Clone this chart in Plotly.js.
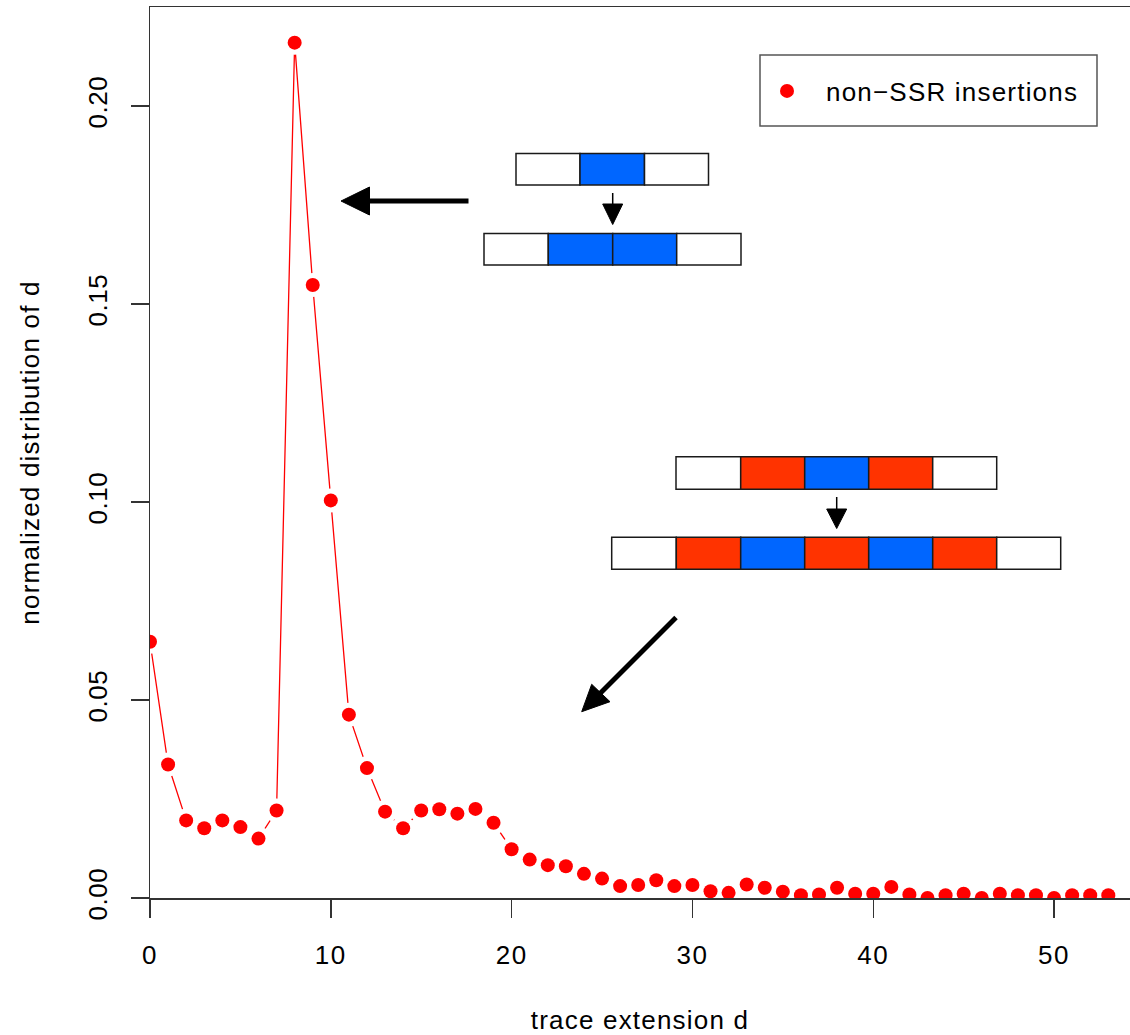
<!DOCTYPE html>
<html>
<head>
<meta charset="utf-8">
<script src="https://cdn.plot.ly/plotly-3.0.1.min.js"></script>
<style>
html,body{margin:0;padding:0;background:#fff;}
#chart{width:1130px;height:1035px;}
/* the reference was rendered with slightly wider glyph spacing */
g.xtick text{letter-spacing:1.5px;}
g.ytick text{letter-spacing:0.6px;}
text.xtitle{letter-spacing:1.2px;}
text.ytitle{letter-spacing:1.2px;}
text.legendtext{letter-spacing:1.2px;}
</style>
</head>
<body>
<div id="chart"></div>
<script>
// ---- data ----
const traceExtension = [0,1,2,3,4,5,6,7,8,9,10,11,12,13,14,15,16,17,18,19,20,21,22,23,24,25,26,
  27,28,29,30,31,32,33,34,35,36,37,38,39,40,41,42,43,44,45,46,47,48,49,50,51,52,53];
const normalizedDist = [0.0647,0.0337,0.0196,0.0176,0.0196,0.0179,0.0150,0.0221,0.2160,0.1548,
  0.1004,0.0463,0.0328,0.0218,0.0176,0.0221,0.0224,0.0213,0.0225,0.0190,
  0.0123,0.0097,0.0083,0.0080,0.0061,0.0049,0.0030,0.0033,0.0045,0.0030,
  0.0033,0.0017,0.0013,0.0034,0.0026,0.0016,0.0007,0.0009,0.0026,0.0011,
  0.0011,0.0028,0.0009,0.0000,0.0007,0.0011,0.0000,0.0011,0.0007,0.0007,
  0.0000,0.0007,0.0007,0.0007];
const seriesName = "non\u2212SSR insertions";
const xTickVals = [0,10,20,30,40,50];
const yTickVals = [0.00,0.05,0.10,0.15,0.20];
const yTickText = ["0.00","0.05","0.10","0.15","0.20"];

// ---- layout geometry ----
const W = 1130, H = 1035;
const M = {l:150, r:0, t:7, b:137};
const PW = W - M.l - M.r, PH = H - M.t - M.b;
const fx = p => (p - M.l) / PW;          // pixel -> paper x
const fy = p => (H - M.b - p) / PH;       // pixel -> paper y

const BLUE = "#0066FF", RED = "#FF3300", WHITE = "#FFFFFF";
const shapes = [];
function bar(edges, colors, y0, y1){
  for (let i = 0; i < colors.length; i++){
    shapes.push({type:"rect", xref:"paper", yref:"paper",
      x0:fx(edges[i]), x1:fx(edges[i+1]), y0:fy(y1), y1:fy(y0),
      fillcolor:colors[i], line:{color:"#1a1a1a", width:1.5}});
  }
}
function seg(x0,y0,x1,y1,w){
  shapes.push({type:"line", xref:"paper", yref:"paper",
    x0:fx(x0), y0:fy(y0), x1:fx(x1), y1:fy(y1), line:{color:"#000", width:w}});
}
function tri(pts){
  const d = "M " + pts.map(p => fx(p[0]) + " " + fy(p[1])).join(" L ") + " Z";
  shapes.push({type:"path", xref:"paper", yref:"paper", path:d,
    fillcolor:"#000", line:{color:"#000", width:1}});
}
// legend frame
shapes.push({type:"rect", xref:"paper", yref:"paper", layer:"below",
  x0:fx(760), x1:fx(1097), y0:fy(126), y1:fy(55),
  fillcolor:"#fff", line:{color:"#555", width:1.5}});
// diagram 1 (tandem duplication)
bar([516,580,644.5,708.5], [WHITE,BLUE,WHITE], 153.5, 185);
seg(612.7,193,612.7,205,1.5); tri([[602.7,204],[622.7,204],[612.7,224.5]]);
bar([484,548.3,612.7,676.7,741], [WHITE,BLUE,BLUE,WHITE], 233.5, 265);
seg(468.5,201,366,201,5); tri([[341,201],[369.5,187],[369.5,215]]);
// diagram 2
bar([676,740.7,804.7,868.7,932.7,996.7], [WHITE,RED,BLUE,RED,WHITE], 456.7, 489.3);
seg(836.7,497,836.7,510,1.5); tri([[826.7,509],[846.7,509],[836.7,528.5]]);
bar([611.7,676.3,740.7,804.7,868.7,932.7,996.7,1060.7], [WHITE,RED,BLUE,RED,BLUE,RED,WHITE], 537.3, 569.3);
seg(676,617.5,598,695.5,5); tri([[581.7,711.7],[591.7,684.3],[610,701.7]]);

const FONT = "Liberation Sans, Arial, Helvetica, sans-serif";
const traces = [
  {x:traceExtension, y:normalizedDist, type:"scatter", mode:"lines",
   line:{color:"#FF0000", width:1.3}, showlegend:false, hoverinfo:"skip"},
  {x:traceExtension, y:normalizedDist, type:"scatter", mode:"markers",
   marker:{color:WHITE, size:24}, showlegend:false, hoverinfo:"skip"},
  {x:traceExtension, y:normalizedDist, type:"scatter", mode:"markers", name:seriesName,
   marker:{color:"#FF0000", size:14}}
];
const layout = {
  width:W, height:H, margin:M, paper_bgcolor:"#fff", plot_bgcolor:"rgba(0,0,0,0)",
  font:{family:FONT, size:26, color:"#000"},
  showlegend:true,
  legend:{x:fx(748), y:fy(91), xanchor:"left", yanchor:"middle",
    borderwidth:0, bgcolor:"rgba(0,0,0,0)",
    font:{family:FONT, size:26, color:"#000"}, itemwidth:68},
  xaxis:{range:[0,54.2], tickvals:xTickVals, ticks:"outside", ticklen:18, tickwidth:1.5,
    tickcolor:"#333", showline:true, linecolor:"#333", linewidth:1.5, mirror:true,
    showgrid:false, zeroline:false, ticklabelstandoff:15, automargin:false,
    title:{text:"trace extension d", standoff:43, font:{family:FONT, size:26}}},
  yaxis:{range:[0,0.225], tickvals:yTickVals, ticktext:yTickText, tickangle:-90,
    ticks:"outside", ticklen:18, tickwidth:1.5, tickcolor:"#333",
    showline:true, linecolor:"#333", linewidth:1.5, showgrid:false, zeroline:false,
    ticklabelstandoff:13, automargin:false,
    title:{text:"normalized distribution of d", standoff:36, font:{family:FONT, size:26}}},
  shapes:shapes
};
Plotly.newPlot("chart", traces, layout, {displayModeBar:false, staticPlot:true});
</script>
</body>
</html>
